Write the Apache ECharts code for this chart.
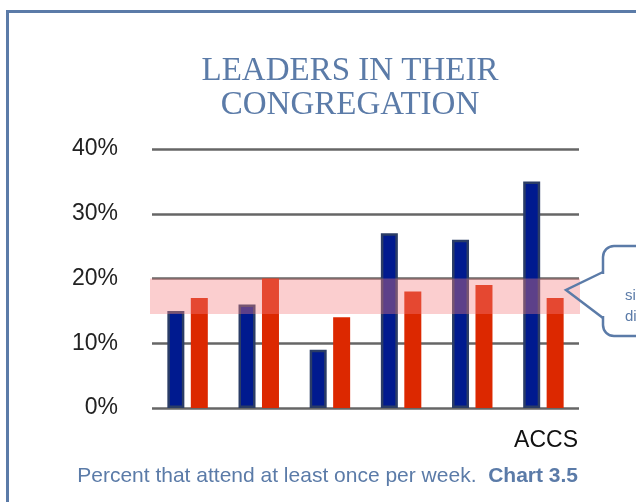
<!DOCTYPE html>
<html><head><meta charset="utf-8">
<script src="https://cdn.jsdelivr.net/npm/echarts@6/dist/echarts.min.js"></script>
<style>html,body{margin:0;padding:0;background:#fff}#c{width:636px;height:502px}</style>
</head><body><div id="c"></div>
<script>
const categories = ['A','B','C','D','E','F'];
const leadersValues = [15, 16, 9, 27, 26, 35];
const accsValues = [17, 20, 14, 18, 19, 17];
const bandRange = [14.5, 20];
const yTicks = [0, 10, 20, 30, 40];

const chart = echarts.init(document.getElementById('c'), null, {renderer: 'canvas'});
const blue = '#5b7ba8';
chart.setOption({
  animation: false,
  backgroundColor: '#fff',
  title: {
    text: 'LEADERS IN THEIR\nCONGREGATION',
    left: 345, top: 49, textAlign: 'center',
    textStyle: {fontFamily: 'Liberation Serif', fontWeight: 'normal', fontSize: 33, lineHeight: 34, color: blue}
  },
  grid: {left: 152, right: 57, top: 149, bottom: 94},
  xAxis: {
    type: 'category', data: categories,
    axisLine: {show: false}, axisTick: {show: false}, axisLabel: {show: false}
  },
  yAxis: {
    type: 'value', min: 0, max: 40, interval: 10,
    axisLine: {show: false}, axisTick: {show: false},
    axisLabel: {formatter: v => yTicks.includes(v) ? v + '%' : '', fontFamily: 'Liberation Sans', fontSize: 23, color: '#222', margin: 34},
    splitLine: {lineStyle: {color: '#666', width: 2.5}}
  },
  series: [
    {
      type: 'bar', data: leadersValues, barWidth: 17, barGap: '38%',
      itemStyle: {color: '#001a8f', borderColor: '#2b3d66', borderWidth: 2.5}
    },
    {
      type: 'bar', data: accsValues, barWidth: 17,
      itemStyle: {color: '#dc2800'}
    },
    {
      type: 'custom', z: 20, silent: true,
      data: [bandRange],
      renderItem: function (params, api) {
        const cs = params.coordSys;
        const top = api.coord([0, api.value(1)])[1];
        const bottom = api.coord([0, api.value(0)])[1];
        return {type: 'rect', shape: {x: cs.x - 2, y: top, width: cs.width + 3, height: bottom - top},
                style: {fill: 'rgba(245,127,128,0.38)'}};
      }
    }
  ],
  graphic: [
    {type: 'rect', shape: {x: 7.5, y: 11.5, width: 800, height: 700}, style: {fill: null, stroke: blue, lineWidth: 3}},
    {type: 'text', x: 578, y: 429, style: {text: 'ACCS', textAlign: 'right', font: '300 23px "Liberation Sans"', fill: '#111'}},
    {type: 'text', x: 578, y: 466, style: {
      text: '{a|Percent that attend at least once per week.  }{b|Chart 3.5}', textAlign: 'right',
      rich: {a: {fontFamily: 'Liberation Sans', fontSize: 21, fill: blue, color: blue},
             b: {fontFamily: 'Liberation Sans', fontSize: 21, fontWeight: 'bold', fill: blue, color: blue}}
    }},
    {type: 'rect', z: 30, shape: {x: 603, y: 246, width: 100, height: 90, r: 11}, style: {fill: '#fff', stroke: blue, lineWidth: 2.5}},
    {type: 'line', z: 31, shape: {x1: 603, y1: 274, x2: 603, y2: 316}, style: {stroke: '#fff', lineWidth: 4}},
    {type: 'polyline', z: 32, shape: {points: [[603, 272], [566, 290], [603, 318]]}, style: {fill: null, stroke: blue, lineWidth: 2.5}},
    {type: 'text', z: 33, x: 625, y: 285, style: {text: 'significant\ndifference', font: '15px "Liberation Sans"', lineHeight: 21, fill: blue}}
  ]
});
</script></body></html>
